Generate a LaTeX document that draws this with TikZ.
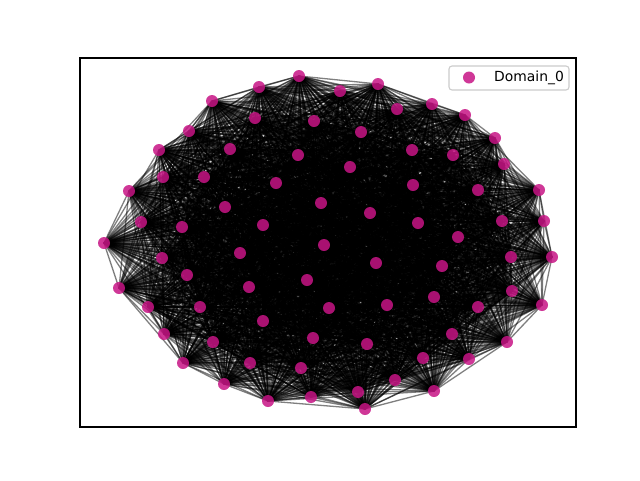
\documentclass[tikz,border=0pt]{standalone}
\usepackage{fontspec}
\setmainfont{DejaVu Sans}
\usetikzlibrary{backgrounds}
\definecolor{mvr}{RGB}{199,21,133}
\definecolor{legedge}{RGB}{204,204,204}
\pgfdeclarelayer{edges}
\pgfsetlayers{background,edges,main}
\tikzset{
  dot/.style={circle,fill=mvr,fill opacity=0.85,draw=none,minimum size=12pt,inner sep=0pt},
  edge/.style={draw=black,opacity=0.5,line width=1.3pt},
  frame/.style={draw=black,line width=1.1pt},
  legbox/.style={draw=legedge,line width=1.1pt,rounded corners=3pt,fill=white,fill opacity=0.8}
}
\begin{document}
\begin{tikzpicture}[x=1pt,y=-1pt]
\begin{pgfonlayer}{background}
\fill[white] (0,0) rectangle (640,480);
\end{pgfonlayer}
\useasboundingbox (0,0) rectangle (640,480);
\foreach \k/\x/\y in {1/299/76,2/259/87,3/212/101,4/255/118,5/314/121,6/189/131,7/159/150,8/230/149,9/298/155,10/163/177,
11/204/177,12/276/183,13/129/191,14/321/203,15/225/207,16/141/222,17/263/225,18/182/227,19/104/243,20/324/245,
21/340/91,22/378/84,23/397/109,24/432/104,25/465/115,26/361/132,27/412/150,28/453/155,29/495/138,30/504/164,
31/350/167,32/413/185,33/478/190,34/539/190,35/370/213,36/418/223,37/502/221,38/544/221,39/458/237,40/162/258,
41/240/253,42/187/275,43/307/280,44/119/288,45/249/287,46/148/307,47/200/307,48/329/308,49/263/321,50/164/334,
51/213/342,52/313/338,53/183/363,54/250/363,55/301/368,56/224/384,57/268/401,58/311/397,59/511/257,60/552/257,
61/376/263,62/442/266,63/512/291,64/542/305,65/434/297,66/387/305,67/478/307,68/507/342,69/452/334,70/367/344,
71/469/359,72/423/358,73/395/380,74/358/392,75/434/391,76/365/409}
  {\node[dot] (n\k) at (\x,\y) {};}
\pgfmathsetseed{4242}
\begin{pgfonlayer}{edges}
\foreach \i in {1,...,75}{
  \pgfmathtruncatemacro{\jstart}{\i+1}
  \foreach \j in {\jstart,...,76}{
    \pgfmathtruncatemacro{\keep}{rnd<0.93}
    \ifnum\keep=1 \draw[edge] (n\i.center) -- (n\j.center);\fi
  }
}
\end{pgfonlayer}
\draw[frame] (80,58) rectangle (576,427);
\node[legbox,minimum width=120pt,minimum height=24pt,inner sep=0pt] (leg) at (509,78) {};
\node[dot] (legdot) at (469,77.5) {};
\node[anchor=west,inner sep=0pt,font=\fontsize{13.9}{16}\selectfont] (legtext) at (494,77.5) {Domain\_0};
\end{tikzpicture}
\end{document}
